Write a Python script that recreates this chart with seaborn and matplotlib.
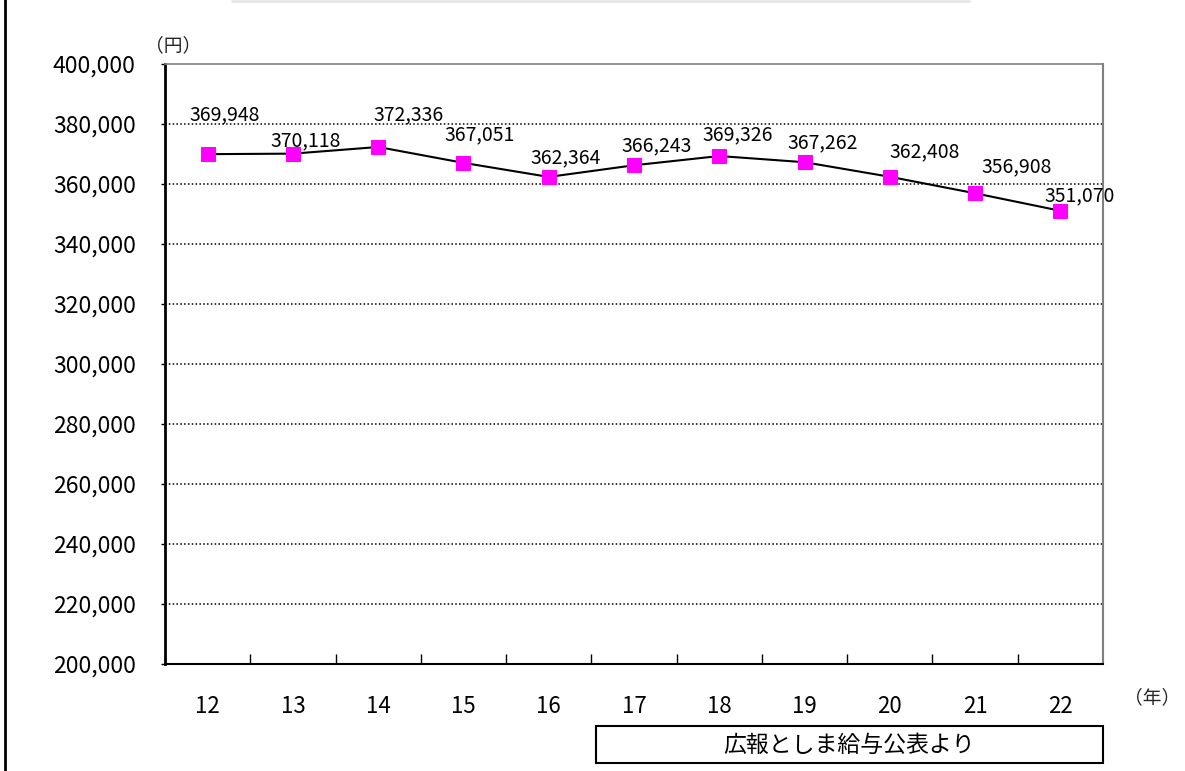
import seaborn as sns
from matplotlib import pyplot as plt
from matplotlib.ticker import FuncFormatter, FixedLocator
import pandas as pd

# 年度 (平成) と平均給与月額
years = ['12', '13', '14', '15', '16', '17', '18', '19', '20', '21', '22']
salary = [369948, 370118, 372336, 367051, 362364, 366243, 369326, 367262, 362408, 356908, 351070]

# label offsets from each marker, in points (x, y)
label_offsets = [(12, 28), (9, 9), (22, 23), (12, 20), (12, 14), (16, 14),
                 (13, 15), (13, 14), (25, 18), (30, 19), (14, 11)]

sns.set_theme(style='white')
plt.rcParams['font.family'] = ['Noto Sans CJK JP', 'DejaVu Sans']

fig = plt.figure(figsize=(11.85, 7.71), dpi=100)
ax = fig.add_axes([165 / 1185, 1 - 664 / 771, 938 / 1185, 600 / 771])

df = pd.DataFrame({'idx': range(len(years)), 'salary': salary})
sns.lineplot(data=df, x='idx', y='salary', ax=ax, color='black', linewidth=1.5,
             marker='s', markersize=10, markerfacecolor='#FF00FF',
             markeredgecolor='#FF00FF', zorder=3)

for i, v in enumerate(salary):
    dx, dy = label_offsets[i]
    ax.annotate(f'{v:,}', (i, v), xytext=(dx, dy), textcoords='offset points',
                ha='center', va='center', fontsize=14, color='black')

ax.set_xlim(-0.5, len(years) - 0.5)
ax.set_ylim(200000, 400000)
ax.set_yticks(range(200000, 400001, 20000))
ax.yaxis.set_major_formatter(FuncFormatter(lambda v, p: f'{int(v):,}'))
ax.set_xticks(range(len(years)))
ax.set_xticklabels(years)
ax.xaxis.set_minor_locator(FixedLocator([i + 0.5 for i in range(len(years) - 1)]))
ax.set_xlabel('')
ax.set_ylabel('')

ax.tick_params(axis='y', which='major', length=3, width=1, color='black',
               direction='out', left=True, pad=18, labelsize=16.5, labelcolor='black')
ax.tick_params(axis='x', which='major', length=0, pad=22, labelsize=16, labelcolor='black')
ax.tick_params(axis='x', which='minor', length=7, width=1, color='black',
               direction='in', bottom=True)

for y in range(220000, 400000, 20000):
    ax.axhline(y, color='black', linestyle=(0, (1, 1.5)), linewidth=1.1, zorder=1)

ax.spines['left'].set_color('black')
ax.spines['left'].set_linewidth(2)
ax.spines['bottom'].set_color('black')
ax.spines['bottom'].set_linewidth(1.5)
ax.spines['right'].set_color('#808080')
ax.spines['right'].set_linewidth(1.5)
ax.spines['top'].set_color('#808080')
ax.spines['top'].set_linestyle((0, (1, 1)))
ax.spines['top'].set_linewidth(1.2)

# units
fig.text(173 / 1185, 1 - 46 / 771, '（円）', ha='center', va='center', fontsize=13.5)
fig.text(1152 / 1185, 1 - 698 / 771, '（年）', ha='center', va='center', fontsize=13.5)

# source box
fig.text(849 / 1185, 1 - 745 / 771, '広報としま給与公表より', ha='center', va='center',
         fontsize=16.5, color='black')
box = plt.Rectangle((596 / 1185, 1 - 763 / 771), 507 / 1185, 37 / 771,
                    transform=fig.transFigure, fill=False, edgecolor='black', linewidth=1.5)
fig.add_artist(box)

# outer frame remnants
fig.add_artist(plt.Line2D([5 / 1185, 5 / 1185], [0, 1], transform=fig.transFigure,
                          color='black', linewidth=2))
fig.add_artist(plt.Line2D([232 / 1185, 969 / 1185], [1 - 1 / 771, 1 - 1 / 771],
                          transform=fig.transFigure, color='#e6e6e6', linewidth=2))

fig.savefig('out.png', dpi=100)
